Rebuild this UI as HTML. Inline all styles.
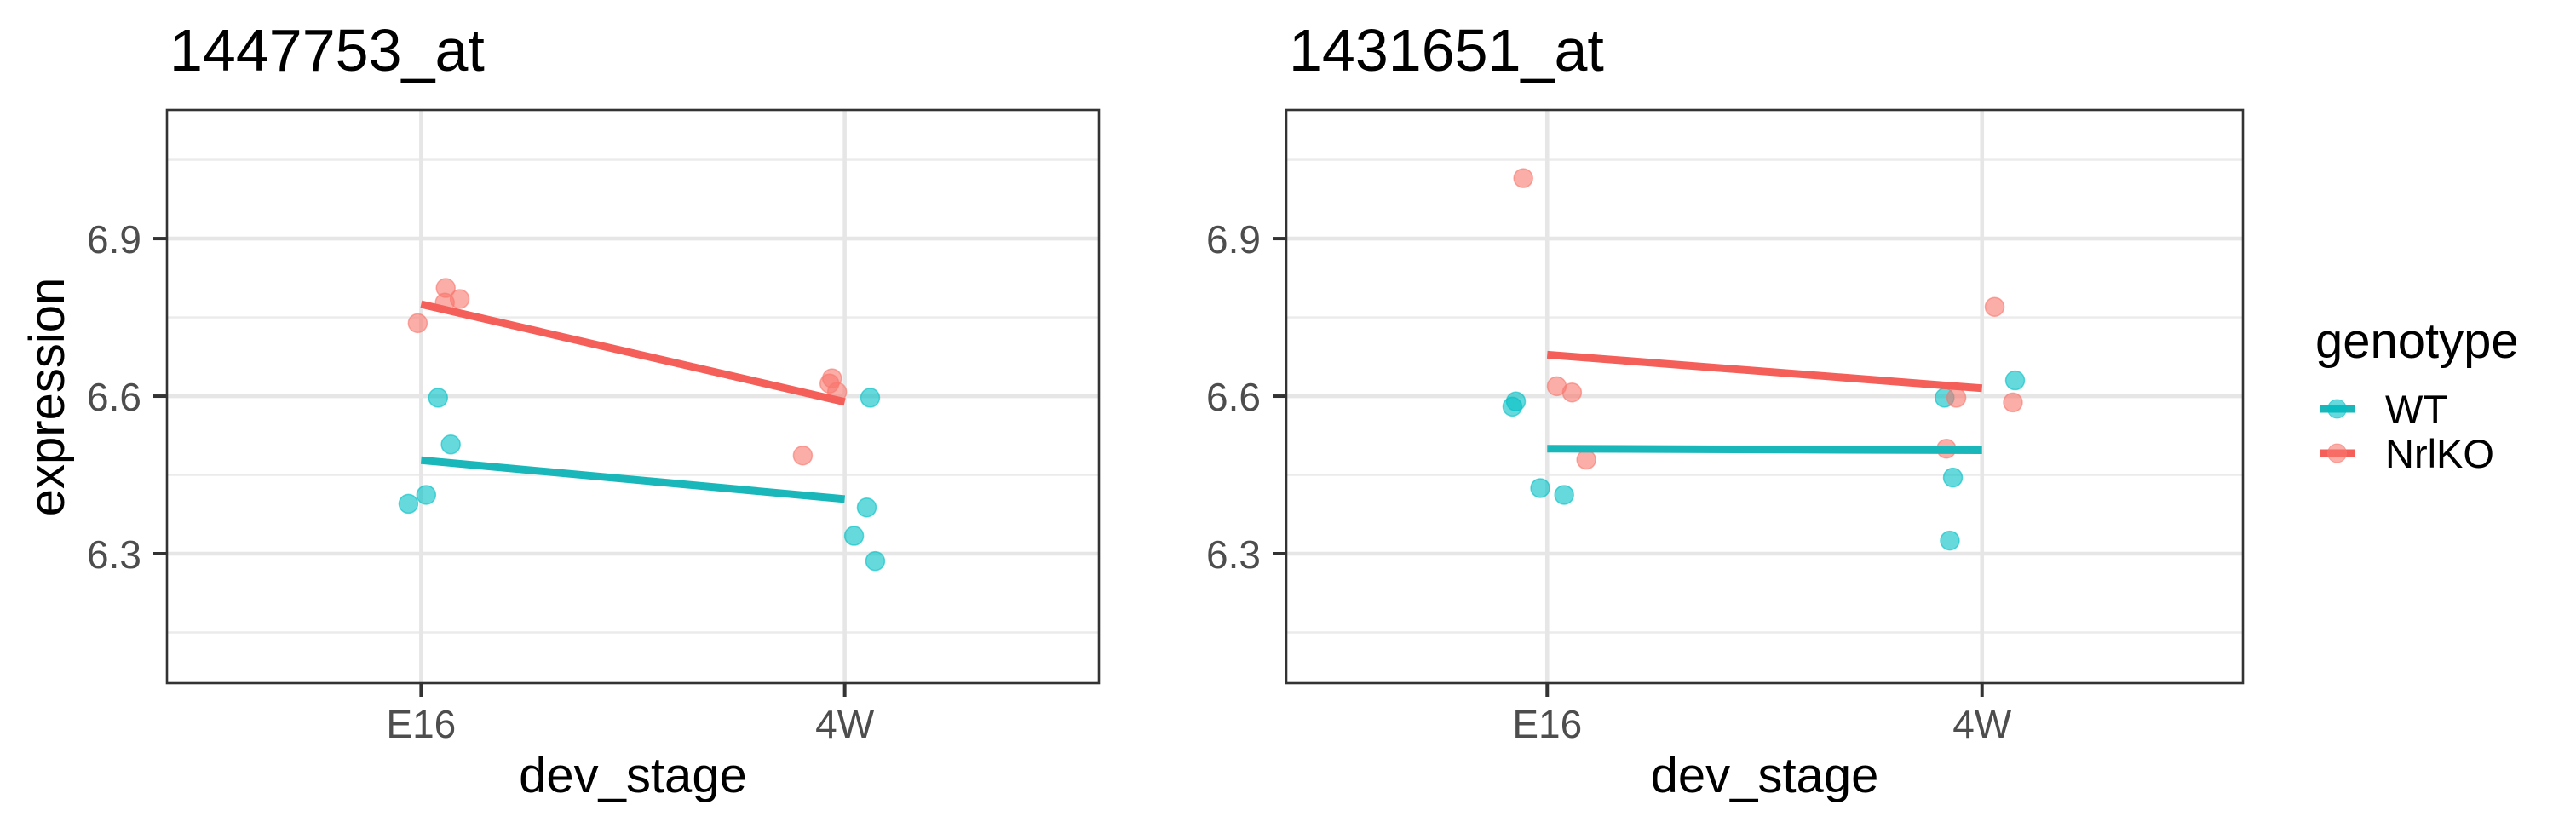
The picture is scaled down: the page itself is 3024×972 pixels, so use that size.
<!DOCTYPE html>
<html><head><meta charset="utf-8"><style>
html,body{margin:0;padding:0;background:#fff;}
svg{display:block;font-family:"Liberation Sans",Arial,sans-serif;}
</style></head><body>
<svg id="chart" width="3024" height="972" viewBox="0 0 3024 972"></svg>
<script>
const categories = ["E16", "4W"];
const genotypes = ["WT", "NrlKO"];
const yTicks = [6.3, 6.6, 6.9];
const yTickLabels = ["6.3", "6.6", "6.9"];
const yMinor = [6.15, 6.45, 6.75, 7.05];
const panelTitles = ["1447753_at", "1431651_at"];
// panel 1 values
const p1_wt_e16 = [6.597, 6.508, 6.412, 6.395];
const p1_wt_e16_jit = [0.040, 0.070, 0.012, -0.030];
const p1_wt_4w = [6.597, 6.388, 6.334, 6.286];
const p1_wt_4w_jit = [0.060, 0.052, 0.022, 0.072];
const p1_ko_e16 = [6.806, 6.785, 6.778, 6.739];
const p1_ko_e16_jit = [0.058, 0.091, 0.056, -0.008];
const p1_ko_4w = [6.634, 6.624, 6.608, 6.487];
const p1_ko_4w_jit = [-0.030, -0.036, -0.018, -0.099];
const p1_wt_line = [6.478, 6.404];
const p1_ko_line = [6.775, 6.589];
// panel 2 values
const p2_wt_e16 = [6.590, 6.580, 6.425, 6.412];
const p2_wt_e16_jit = [-0.072, -0.080, -0.016, 0.039];
const p2_wt_4w = [6.630, 6.597, 6.445, 6.325];
const p2_wt_4w_jit = [0.076, -0.086, -0.067, -0.074];
const p2_ko_e16 = [7.015, 6.619, 6.607, 6.479];
const p2_ko_e16_jit = [-0.055, 0.022, 0.057, 0.090];
const p2_ko_4w = [6.770, 6.597, 6.588, 6.500];
const p2_ko_4w_jit = [0.029, -0.059, 0.071, -0.082];
const p2_wt_line = [6.500, 6.497];
const p2_ko_line = [6.679, 6.615];

const NS = "http://www.w3.org/2000/svg";
const svg = document.getElementById("chart");
const colors = {WT: "#00BFC4", NrlKO: "#F8766D"};
const lineColors = {WT: "#1AB7BA", NrlKO: "#F55F5A"};
const Y0 = 6.0535, Y1 = 7.145;
function mk(tag, attrs, parent) {
  const e = document.createElementNS(NS, tag);
  for (const k in attrs) e.setAttribute(k, attrs[k]);
  (parent || svg).appendChild(e);
  return e;
}
const panels = [
  {l: 196, r: 1290,
   data: {WT: [[p1_wt_e16, p1_wt_e16_jit], [p1_wt_4w, p1_wt_4w_jit]], NrlKO: [[p1_ko_e16, p1_ko_e16_jit], [p1_ko_4w, p1_ko_4w_jit]]},
   lines: {WT: p1_wt_line, NrlKO: p1_ko_line}},
  {l: 1510, r: 2633,
   data: {WT: [[p2_wt_e16, p2_wt_e16_jit], [p2_wt_4w, p2_wt_4w_jit]], NrlKO: [[p2_ko_e16, p2_ko_e16_jit], [p2_ko_4w, p2_ko_4w_jit]]},
   lines: {WT: p2_wt_line, NrlKO: p2_ko_line}}
];
const T = 129, B = 802;
function yScale(v) { return B - (v - Y0) / (Y1 - Y0) * (B - T); }

panels.forEach((p, pi) => {
  const g = mk("g", {});
  
  
  const xScale = (c) => p.l + (c + 1 - 0.4) / 2.2 * (p.r - p.l);
  const title = mk("text", {x: p.l + 3, y: 83, "font-size": 70, fill: "#000"}, g);
  title.textContent = panelTitles[pi];
  
  
  yMinor.forEach(v => {
    const ln = mk("line", {x1: p.l, x2: p.r, y1: yScale(v), y2: yScale(v), stroke: "#EBEBEB", "stroke-width": 2.4}, g);
    
    
  });
  yTicks.forEach((v, i) => {
    const ln = mk("line", {x1: p.l, x2: p.r, y1: yScale(v), y2: yScale(v), stroke: "#E6E6E6", "stroke-width": 4.6}, g);
    
    
    const tk = mk("line", {x1: p.l - 16, x2: p.l, y1: yScale(v), y2: yScale(v), stroke: "#333", "stroke-width": 4}, g);
    
    
    const t = mk("text", {x: p.l - 30, y: yScale(v) + 17, "font-size": 46, fill: "#4D4D4D", "text-anchor": "end"}, g);
    t.textContent = yTickLabels[i];
    
    
  });
  categories.forEach((c, ci) => {
    const x = xScale(ci);
    const ln = mk("line", {x1: x, x2: x, y1: T, y2: B, stroke: "#E6E6E6", "stroke-width": 4.6}, g);
    
    
    const tk = mk("line", {x1: x, x2: x, y1: B, y2: B + 16, stroke: "#333", "stroke-width": 4}, g);
    
    
    const t = mk("text", {x: x, y: 866, "font-size": 46, fill: "#4D4D4D", "text-anchor": "middle"}, g);
    t.textContent = c;
    
    
  });
  genotypes.forEach(gt => {
    p.data[gt].forEach((pair, ci) => {
      pair[0].forEach((v, k) => {
        const pt = mk("circle", {cx: xScale(ci + pair[1][k]), cy: yScale(v), r: 11, fill: colors[gt], "fill-opacity": 0.6, stroke: colors[gt], "stroke-opacity": 0.6, "stroke-width": 1.5}, g);
        
        
      });
    });
  });
  genotypes.forEach(gt => {
    const L = p.lines[gt];
    const ln = mk("line", {x1: xScale(0), x2: xScale(1), y1: yScale(L[0]), y2: yScale(L[1]), stroke: lineColors[gt], "stroke-width": 9}, g);
    
    
  });
  const bd = mk("rect", {x: p.l, y: T, width: p.r - p.l, height: B - T, fill: "none", stroke: "#333", "stroke-width": 2.6}, g);
  
  
  const xt = mk("text", {x: (p.l + p.r) / 2, y: 930, "font-size": 58, fill: "#000", "text-anchor": "middle"}, g);
  xt.textContent = "dev_stage";
  
  
});
const yt = mk("text", {x: 0, y: 0, "font-size": 58, fill: "#000", "text-anchor": "middle", transform: "translate(75,466) rotate(-90)"});
yt.textContent = "expression";



const lg = mk("g", {});


const lt = mk("text", {x: 2718, y: 420, "font-size": 58, fill: "#000"}, lg);
lt.textContent = "genotype";


genotypes.forEach((gt, i) => {
  const y = 480 + i * 52;
  const e = mk("g", {}, lg);
  
  
  mk("line", {x1: 2723, x2: 2764, y1: y, y2: y, stroke: lineColors[gt], "stroke-width": 9}, e);
  mk("circle", {cx: 2743.5, cy: y, r: 11, fill: colors[gt], "fill-opacity": 0.6, stroke: colors[gt], "stroke-opacity": 0.6}, e);
  const t = mk("text", {x: 2800, y: y + 17, "font-size": 47, fill: "#000"}, e);
  t.textContent = gt;
});
</script>
</body></html>
